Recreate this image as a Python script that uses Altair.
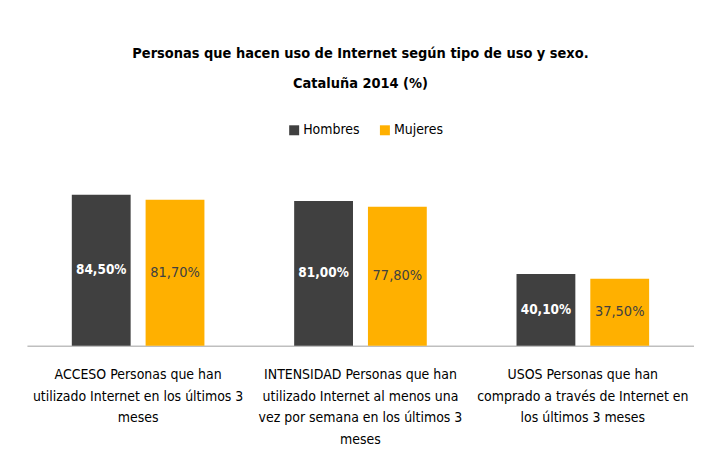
import altair as alt
import pandas as pd

categories = [
    "ACCESO Personas que han|utilizado Internet  en los últimos 3|meses",
    "INTENSIDAD Personas que han|utilizado Internet   al menos una|vez por semana en los últimos 3|meses",
    "USOS Personas que han|comprado a través de Internet en|los últimos 3 meses",
]
sexes = ["Hombres", "Mujeres"]
hombres = [84.5, 81.0, 40.1]
mujeres = [81.7, 77.8, 37.5]

rows = []
for c, h, m in zip(categories, hombres, mujeres):
    rows.append({"cat": c, "sexo": "Hombres", "valor": h})
    rows.append({"cat": c, "sexo": "Mujeres", "valor": m})
df = pd.DataFrame(rows)
df["etiqueta"] = df["valor"].map(lambda v: f"{v:.2f}".replace(".", ",") + "%")

FONT = "DejaVu Sans Condensed, DejaVu Sans, sans-serif"

x = alt.X(
    "cat:N",
    sort=categories,
    scale=alt.Scale(paddingInner=0, paddingOuter=0),
    axis=alt.Axis(
        title=None,
        labelAngle=0,
        ticks=False,
        domainColor="#bfbfbf",
        domainWidth=1.5,
        labelExpr="split(datum.label, '|')",
        labelFont=FONT,
        labelFontSize=14,
        labelColor="#000000",
        labelLineHeight=21.7,
        labelPadding=22,
        labelLimit=400,
        labelBaseline="top",
    ),
)
xoff = alt.XOffset(
    "sexo:N",
    sort=sexes,
    scale=alt.Scale(domain=sexes, paddingInner=0.2027, paddingOuter=0.608),
)
yscale = alt.Scale(domain=[0, 100])
y = alt.Y("valor:Q", scale=yscale, axis=None)

bars = alt.Chart(df).mark_bar().encode(
    x=x,
    xOffset=xoff,
    y=y,
    color=alt.Color(
        "sexo:N",
        sort=sexes,
        scale=alt.Scale(domain=sexes, range=["#404040", "#FFB000"]),
        legend=alt.Legend(
            title=None,
            orient="none",
            direction="horizontal",
            legendX=261,
            legendY=-44,
            symbolType="square",
            symbolSize=100,
            symbolStrokeWidth=0,
            labelFont=FONT,
            labelFontSize=14,
            labelColor="#000000",
            labelOffset=2,
            columnPadding=18,
        ),
    ),
)

text_base = alt.Chart(df).transform_calculate(mid="datum.valor / 2")

text_h = text_base.transform_filter("datum.sexo == 'Hombres'").mark_text(
    font=FONT, fontSize=13.5, fontWeight="bold", color="#ffffff", baseline="middle"
).encode(
    x=x,
    xOffset=xoff,
    y=alt.Y("mid:Q", scale=yscale, axis=None),
    text="etiqueta:N",
)
text_m = text_base.transform_filter("datum.sexo == 'Mujeres'").mark_text(
    font=FONT, fontSize=14.5, color="#404040", baseline="middle"
).encode(
    x=x,
    xOffset=xoff,
    y=alt.Y("mid:Q", scale=yscale, axis=None),
    text="etiqueta:N",
)

chart = (
    alt.layer(bars, text_h, text_m)
    .properties(
        width=669,
        height=179,
        title=alt.TitleParams(
            text=[
                "Personas que hacen uso de Internet según tipo de uso y sexo.",
                "Cataluña  2014 (%)",
            ],
            font=FONT,
            fontSize=14.5,
            fontWeight="bold",
            color="#000000",
            lineHeight=30,
            anchor="middle",
            offset=32,
        ),
        padding={"left": 19, "top": 37, "right": 0, "bottom": 0},
    )
    .configure(background="#ffffff")
    .configure_view(stroke="transparent", strokeWidth=0)
)

chart.save("out.html", embed_options={"renderer": "svg", "actions": False})
